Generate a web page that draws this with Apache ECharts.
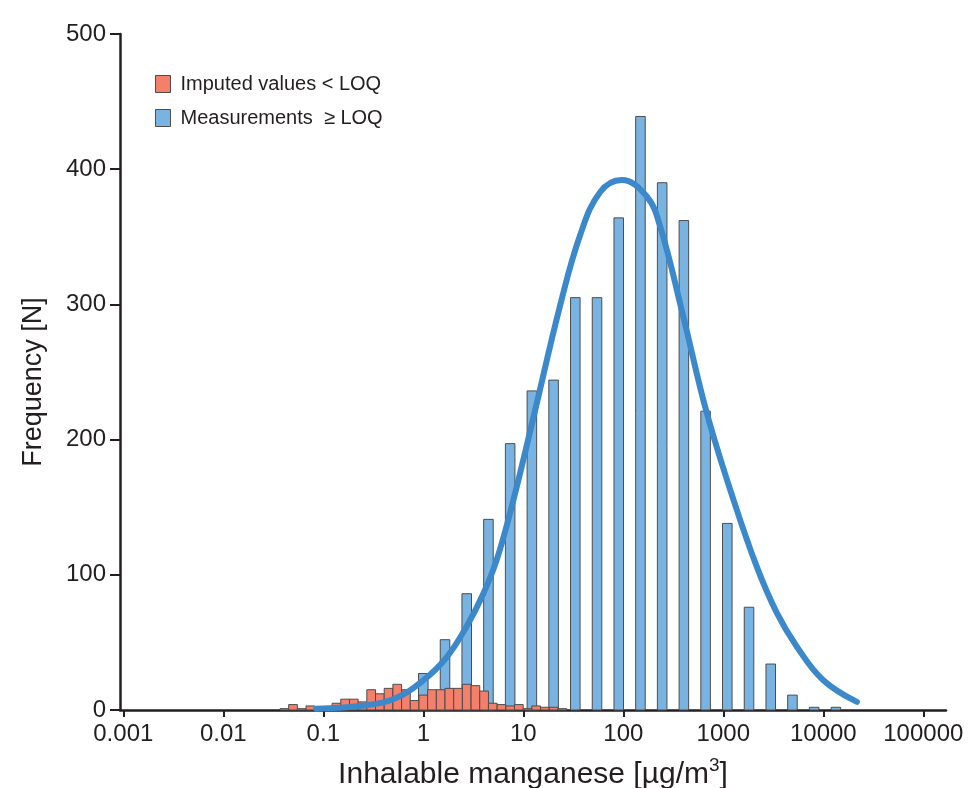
<!DOCTYPE html>
<html>
<head>
<meta charset="utf-8">
<script src="https://cdn.jsdelivr.net/npm/echarts@6/dist/echarts.min.js"></script>
<style>
  html, body { margin: 0; padding: 0; background: #fff; }
  #chart { width: 972px; height: 788px; }
</style>
</head>
<body>
<div id="chart"></div>
<script>
// bins are 0.2 (imputed) and 0.5 (measured) wide in natural log units
const redLnCenters = [-3.2, -3.0, -2.8, -2.6, -2.4, -2.2, -2.0, -1.8, -1.6, -1.4, -1.2, -1.0, -0.8, -0.6, -0.4, -0.2,
  0, 0.2, 0.4, 0.6, 0.8, 1.0, 1.2, 1.4, 1.6, 1.8, 2.0, 2.2, 2.4, 2.6, 2.8, 3.0, 3.2]
const redCounts = [1, 4, 1, 3, 1, 2, 5, 8, 8, 6, 15, 12, 16, 19, 15, 7,
  11, 15, 15, 16, 16, 19, 18, 14, 5, 4, 3, 4, 1, 3, 2, 2, 1]

const blueLnCenters = [0, 0.5, 1, 1.5, 2, 2.5, 3, 3.5, 4, 4.5, 5, 5.5, 6, 6.5, 7, 7.5, 8, 8.5, 9, 9.5]
const blueCounts = [27, 52, 86, 141, 197, 236, 244, 305, 305, 364, 439, 390, 362, 221, 138, 76, 34, 11, 2, 2]

// fitted curve
const curveX = [0.085, 0.23, 0.5, 1, 1.71, 2.72, 3.98, 5.42, 7.94, 12.5, 23.3, 36.9, 58.5, 96.4, 171, 233, 395, 682, 1270, 2160, 3420, 5420, 10000, 21700]
const curveY = [1, 3, 8, 22, 39, 62, 86, 111, 155, 215, 299, 351, 383, 392, 380, 358, 292, 220, 155, 106, 72, 47, 22, 6]

const xTickLabels = ['0.001', '0.01', '0.1', '1', '10', '100', '1000', '10000', '100000']
const yTicks = [0, 100, 200, 300, 400, 500]

const FONT = 'Liberation Sans'
const AXIS = '#231f20'

function binData(centers, counts, half) {
  return centers.map((c, i) => [Math.exp(c - half), Math.exp(c + half), counts[i]])
}

function barRenderer(fill) {
  return function (params, api) {
    const top = api.coord([api.value(0), api.value(2)])
    const bot = api.coord([api.value(1), 0])
    return {
      type: 'rect',
      shape: { x: top[0], y: top[1], width: bot[0] - top[0], height: bot[1] - top[1] },
      style: { fill: fill, stroke: '#4d4d4d', lineWidth: 1 }
    }
  }
}

const myChart = echarts.init(document.getElementById('chart'))
myChart.setOption({
  animation: false,
  backgroundColor: '#fff',
  textStyle: { fontFamily: FONT },
  legend: {
    data: ['Imputed values < LOQ', 'Measurements  \u2265 LOQ'],
    orient: 'vertical',
    left: 150,
    top: 69,
    icon: 'rect',
    itemWidth: 15,
    itemHeight: 17,
    itemGap: 14,
    itemStyle: { borderColor: '#4d4d4d', borderWidth: 1 },
    textStyle: { fontFamily: FONT, fontSize: 20, color: AXIS, padding: [0, 0, 0, 5] }
  },
  grid: [
    { left: 123.3, right: 48.7, top: 34, bottom: 78, outerBoundsMode: 'none' },
    { left: 120, right: 26, top: 34, bottom: 78, outerBoundsMode: 'none' }
  ],
  xAxis: [
    {
      type: 'log',
      gridIndex: 0,
      min: 0.001,
      max: 100000,
      logBase: 10,
      axisLine: { show: false },
      axisTick: { show: true, length: 7, lineStyle: { color: AXIS, width: 2 } },
      splitLine: { show: false },
      minorTick: { show: false },
      axisLabel: {
        fontFamily: FONT, fontSize: 24, color: AXIS, margin: 12,
        formatter: (v) => xTickLabels[Math.round(Math.log10(v)) + 3]
      }
    },
    {
      type: 'value',
      gridIndex: 1,
      min: 0,
      max: 1,
      axisLine: { show: true, lineStyle: { color: AXIS, width: 2.5 } },
      axisTick: { show: false },
      axisLabel: { show: false },
      splitLine: { show: false },
      name: '{a|Inhalable manganese [\u00b5g/m}{s|3}{a|]}',
      nameLocation: 'middle',
      nameGap: 46,
      nameTextStyle: {
        rich: {
          a: { fontFamily: FONT, fontSize: 30, lineHeight: 34, color: AXIS, verticalAlign: 'bottom' },
          s: { fontFamily: FONT, fontSize: 19, lineHeight: 19, color: AXIS, verticalAlign: 'bottom', padding: [0, 0, 15, 0] }
        }
      }
    }
  ],
  yAxis: [
    {
      type: 'value',
      gridIndex: 0,
      min: 0,
      max: 500,
      interval: 100,
      show: false
    },
    {
      type: 'value',
      gridIndex: 1,
      min: yTicks[0],
      max: yTicks[yTicks.length - 1],
      interval: 100,
      axisLine: { show: true, lineStyle: { color: AXIS, width: 2.5 } },
      axisTick: { show: true, length: 10, lineStyle: { color: AXIS, width: 2 } },
      splitLine: { show: false },
      axisLabel: { fontFamily: FONT, fontSize: 24, color: AXIS, margin: 14 },
      name: 'Frequency [N]',
      nameLocation: 'middle',
      nameGap: 73,
      nameTextStyle: { fontFamily: FONT, fontSize: 27, color: AXIS, padding: [0, 20, 0, 0] }
    }
  ],
  series: [
    {
      name: 'Measurements  \u2265 LOQ',
      type: 'custom',
      xAxisIndex: 0,
      yAxisIndex: 0,
      renderItem: barRenderer('#79b3e1'),
      itemStyle: { color: '#79b3e1' },
      encode: { x: [0, 1], y: 2 },
      data: binData(blueLnCenters, blueCounts, 0.11),
      z: 2
    },
    {
      name: 'Imputed values < LOQ',
      type: 'custom',
      xAxisIndex: 0,
      yAxisIndex: 0,
      renderItem: barRenderer('#f47f6b'),
      itemStyle: { color: '#f47f6b' },
      encode: { x: [0, 1], y: 2 },
      data: binData(redLnCenters, redCounts, 0.1),
      z: 3
    },
    {
      name: 'fit',
      type: 'line',
      xAxisIndex: 0,
      yAxisIndex: 0,
      smooth: 0.4,
      showSymbol: false,
      symbol: 'none',
      lineStyle: { color: '#3b88ca', width: 6, cap: 'round' },
      data: curveX.map((x, i) => [x, curveY[i]]),
      z: 4
    }
  ]
})
</script>
</body>
</html>
